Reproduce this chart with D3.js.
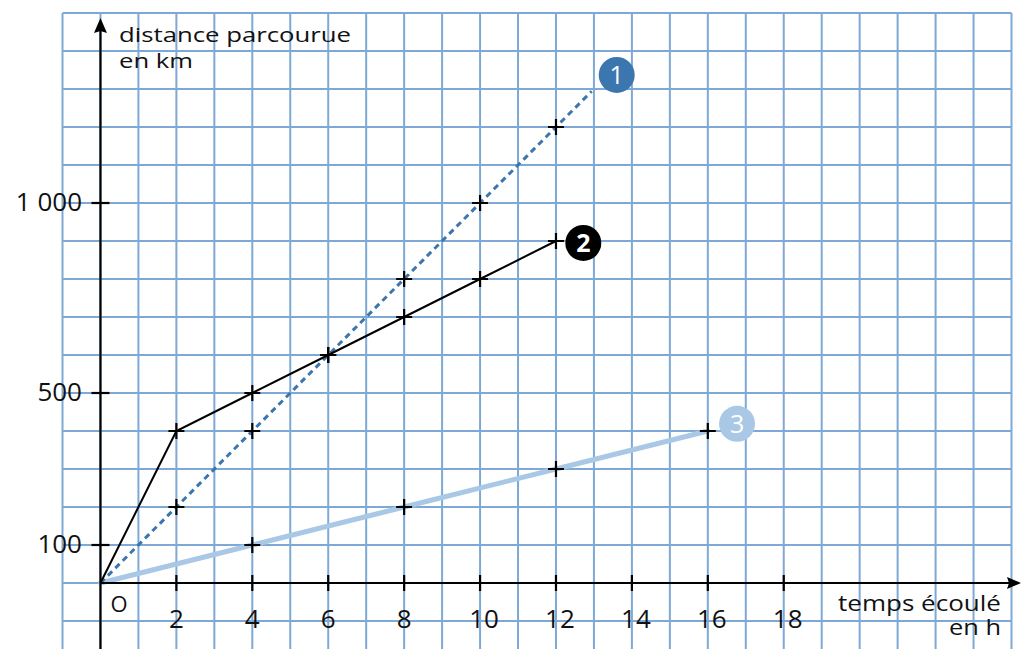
<!DOCTYPE html>
<html>
<head>
<meta charset="utf-8">
<script src="https://cdn.jsdelivr.net/npm/d3@7"></script>
<style>
  html, body { margin: 0; padding: 0; background: #ffffff; }
  svg { display: block; }
  text { font-family: "Open Sans", "DejaVu Sans", sans-serif; fill: #111; }
</style>
</head>
<body>
<svg id="chart" width="1023" height="649"></svg>
<script>
// ---- data ----
const hours1 = [0, 2, 4, 6, 8, 10, 12];
const distance1 = [0, 200, 400, 600, 800, 1000, 1200];
const hours2 = [0, 2, 4, 6, 8, 10, 12];
const distance2 = [0, 400, 500, 600, 700, 800, 900];
const hours3 = [0, 4, 8, 12, 16];
const distance3 = [0, 100, 200, 300, 400];
const seriesIds = ["1", "2", "3"];
const labelHours = [13.6, 12.72, 16.77];
const labelDistances = [1337, 895, 419];
const xTickValues = [2, 4, 6, 8, 10, 12, 14, 16, 18];
const yTickValues = [100, 500, 1000];
const yTickLabels = ["100", "500", "1 000"];
const xTitle = ["temps écoulé", "en h"];
const yTitle = ["distance parcourue", "en km"];

// ---- setup ----
const svg = d3.select("#chart");
const x = d3.scaleLinear().domain([-1, 24]).range([62.5, 1011.5]);
const y = d3.scaleLinear().domain([0, 1500]).range([583, 13]);

const gridColor = "#7ea9d6";
const c1 = "#3b77ae", c2 = "#000000", c3 = "#a9c8e6";

// grid
const grid = svg.append("g");
const gx = d3.range(-1, 25, 1);
const gy = d3.range(-200, 1600, 100);
grid.selectAll("line.v").data(gx).join("line")
  .attr("x1", d => x(d)).attr("x2", d => x(d))
  .attr("y1", y(1500)).attr("y2", 660)
  .attr("stroke", gridColor).attr("stroke-width", 2);
grid.selectAll("line.h").data(gy.filter(d => d <= 1500)).join("line")
  .attr("x1", x(-1)).attr("x2", x(24))
  .attr("y1", d => y(d)).attr("y2", d => y(d))
  .attr("stroke", gridColor).attr("stroke-width", 2);

// series
const pts = (hs, ds) => hs.map((h, i) => [h, ds[i]]);
const s1 = pts(hours1, distance1), s2 = pts(hours2, distance2), s3 = pts(hours3, distance3);
const line = d3.line().x(d => x(d[0])).y(d => y(d[1]));

// extend series 1 a little toward its label along its last segment
const a = s1[s1.length - 2], b = s1[s1.length - 1];
const s1ext = s1.concat([[b[0] + (b[0] - a[0]) * 0.47, b[1] + (b[1] - a[1]) * 0.47]]);

svg.append("path").attr("d", line(s3)).attr("fill", "none")
  .attr("stroke", c3).attr("stroke-width", 5).attr("stroke-linecap", "round");
svg.append("path").attr("d", line(s1ext)).attr("fill", "none")
  .attr("stroke", c1).attr("stroke-width", 3).attr("stroke-dasharray", "6,4.5");
svg.append("path").attr("d", line(s2)).attr("fill", "none")
  .attr("stroke", c2).attr("stroke-width", 2);

// axes
const axes = svg.append("g").attr("stroke", "#000").attr("stroke-width", 2.2);
axes.append("line").attr("x1", x(0)).attr("x2", 1010).attr("y1", y(0)).attr("y2", y(0));
axes.append("line").attr("x1", x(0)).attr("x2", x(0)).attr("y1", 649).attr("y2", 30);
svg.append("path")
  .attr("d", `M${1021},${y(0)} L${1007},${y(0) - 6} L${1009},${y(0)} L${1007},${y(0) + 6} Z`)
  .attr("fill", "#000");
svg.append("path")
  .attr("d", `M${x(0)},18 L${x(0) - 6.5},33 L${x(0)},31 L${x(0) + 6.5},33 Z`)
  .attr("fill", "#000");

// ticks
axes.selectAll("line.xt").data(xTickValues).join("line")
  .attr("x1", d => x(d)).attr("x2", d => x(d))
  .attr("y1", y(0) - 8).attr("y2", y(0) + 8);
axes.selectAll("line.yt").data(yTickValues).join("line")
  .attr("x1", x(0) - 9).attr("x2", x(0) + 9)
  .attr("y1", d => y(d)).attr("y2", d => y(d));

// tick labels
svg.selectAll("text.xl").data(xTickValues).join("text")
  .attr("x", d => x(d) + (d >= 10 ? 4 : 0)).attr("y", 628)
  .attr("text-anchor", "middle").attr("font-size", 26)
  .text(d => d);
svg.selectAll("text.yl").data(yTickValues).join("text")
  .attr("x", 82).attr("y", d => y(d) + 8)
  .attr("text-anchor", "end").attr("font-size", 26)
  .text((d, i) => yTickLabels[i]);
svg.append("text").attr("x", 119).attr("y", 612)
  .attr("text-anchor", "middle").attr("font-size", 22).text("O");

// titles
svg.append("text").attr("x", 119).attr("y", 41.5).attr("font-size", 20)
  .attr("textLength", 232).attr("lengthAdjust", "spacingAndGlyphs").text(yTitle[0]);
svg.append("text").attr("x", 119).attr("y", 68).attr("font-size", 20)
  .attr("textLength", 74).attr("lengthAdjust", "spacingAndGlyphs").text(yTitle[1]);
svg.append("text").attr("x", 838).attr("y", 611).attr("font-size", 21)
  .attr("textLength", 163).attr("lengthAdjust", "spacingAndGlyphs").text(xTitle[0]);
svg.append("text").attr("x", 949).attr("y", 635).attr("font-size", 21)
  .attr("textLength", 52).attr("lengthAdjust", "spacingAndGlyphs").text(xTitle[1]);

// crosses
const crossPts = [].concat(s1.slice(1), s2.slice(1), s3.slice(1));
const cs = 8;
svg.append("g").attr("stroke", "#000").attr("stroke-width", 2.2)
  .selectAll("path").data(crossPts).join("path")
  .attr("d", d => {
    const px = x(d[0]), py = y(d[1]);
    return `M${px - cs},${py} H${px + cs} M${px},${py - cs} V${py + cs}`;
  });

// series labels
const labelColors = [c1, c2, c3];
const lg = svg.append("g").selectAll("g").data(seriesIds).join("g")
  .attr("transform", (d, i) => `translate(${x(labelHours[i])},${y(labelDistances[i])})`);
lg.append("circle").attr("r", 18).attr("fill", (d, i) => labelColors[i]);
lg.append("text").attr("text-anchor", "middle").attr("y", 9)
  .attr("font-size", 25).attr("font-weight", (d, i) => i === 1 ? 700 : 400)
  .style("fill", "#fff").text(d => d);
</script>
</body>
</html>
